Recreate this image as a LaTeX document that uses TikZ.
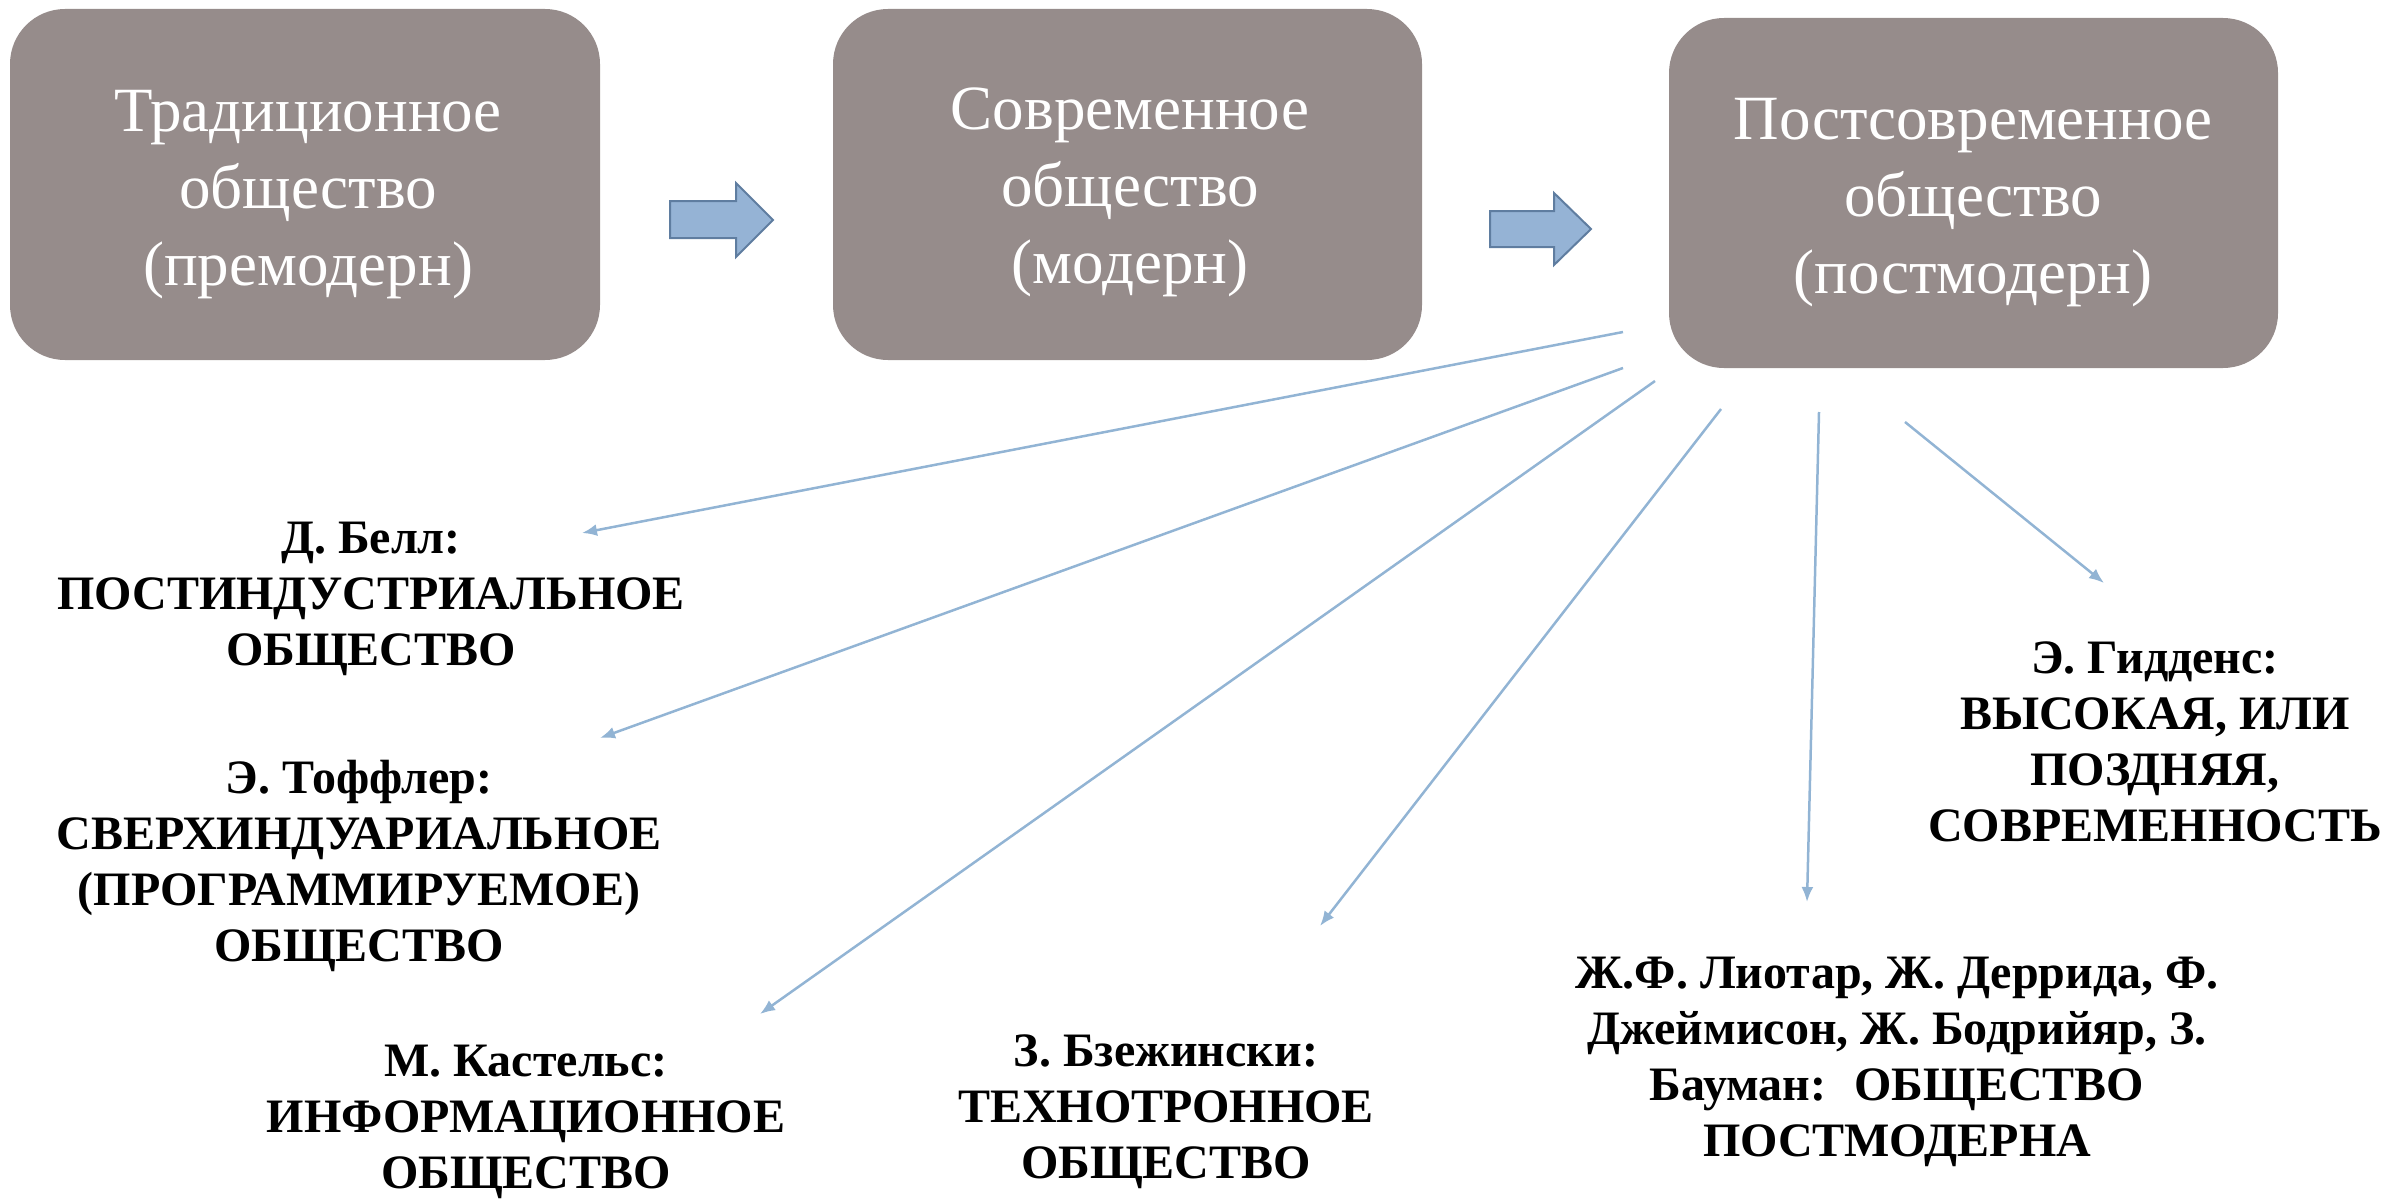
\documentclass[tikz,border=0pt]{standalone}
\usepackage{fontspec}
\setmainfont{Liberation Serif}
\usetikzlibrary{arrows.meta}
\definecolor{boxgray}{RGB}{150,140,139}
\definecolor{arrfill}{RGB}{149,179,213}
\definecolor{arrdraw}{RGB}{95,125,160}
\definecolor{connblue}{RGB}{146,180,212}
\begin{document}
\begin{tikzpicture}[x=1pt,y=-1pt,
  stagebox/.style={fill=boxgray, draw=none, rounded corners=55pt, inner sep=0pt},
  stagetext/.style={text=white, font=\fontsize{63}{77}\selectfont, align=center, inner sep=0pt, anchor=north},
  lab/.style={font=\fontsize{48}{56}\selectfont\bfseries, align=center, inner sep=0pt, anchor=north},
  blockarrow/.style={fill=arrfill, draw=arrdraw, line width=2pt, line join=miter},
  conn/.style={draw=connblue, line width=2.5pt, -{Latex[length=15pt,width=12pt]}}]
\useasboundingbox (0,0) rectangle (2389,1199);
% stage boxes
\node[stagebox, minimum width=590pt, minimum height=351pt] (b1) at (305,184.5) {};
\node[stagebox, minimum width=589pt, minimum height=351pt] (b2) at (1127.5,184.5) {};
\node[stagebox, minimum width=609pt, minimum height=350pt] (b3) at (1973.5,193) {};
\node[stagetext] (s1) at (308,90) {Традиционное\\общество\\(премодерн)};
\node[stagetext] (s2) at (1130,88) {Современное\\общество\\(модерн)};
\node[stagetext] (s3) at (1973,98) {Постсовременное\\общество\\(постмодерн)};
% block arrows
\draw[blockarrow] (670,201) -- (736,201) -- (736,183) -- (773,220) -- (736,257) -- (736,238) -- (670,238) -- cycle;
\draw[blockarrow] (1490,211) -- (1554,211) -- (1554,193) -- (1591,229) -- (1554,265) -- (1554,247) -- (1490,247) -- cycle;
% labels
\node[lab] (bell) at (371,522) {Д. Белл:\\ПОСТИНДУСТРИАЛЬНОЕ\\ОБЩЕСТВО};
\node[lab] (toffler) at (359,760) {Э. Тоффлер:\\СВЕРХИНДУАРИАЛЬНОЕ\\(ПРОГРАММИРУЕМОЕ)\\ОБЩЕСТВО};
\node[lab] (castells) at (526,1045) {М. Кастельс:\\ИНФОРМАЦИОННОЕ\\ОБЩЕСТВО};
\node[lab] (brz) at (1166,1035) {З. Бзежински:\\ТЕХНОТРОННОЕ\\ОБЩЕСТВО};
\node[lab] (lyo) at (1897,957) {Ж.Ф. Лиотар, Ж. Деррида, Ф.\\Джеймисон, Ж. Бодрийяр, З.\\Бауман:~ ОБЩЕСТВО\\ПОСТМОДЕРНА};
\node[lab] (gid) at (2155,642) {Э. Гидденс:\\ВЫСОКАЯ, ИЛИ\\ПОЗДНЯЯ,\\СОВРЕМЕННОСТЬ};
% connectors
\coordinate (c1) at (1623,332); \coordinate (e1) at (582,533);
\coordinate (c2) at (1623,368); \coordinate (e2) at (600,738);
\coordinate (c3) at (1655,381); \coordinate (e3) at (760,1014);
\coordinate (c4) at (1721,409); \coordinate (e4) at (1320,926);
\coordinate (c5) at (1819,412); \coordinate (e5) at (1807,902);
\coordinate (c6) at (1905,422); \coordinate (e6) at (2104,583);
\draw[conn] (c1) -- (e1);
\draw[conn] (c2) -- (e2);
\draw[conn] (c3) -- (e3);
\draw[conn] (c4) -- (e4);
\draw[conn] (c5) -- (e5);
\draw[conn] (c6) -- (e6);
\end{tikzpicture}
\end{document}
